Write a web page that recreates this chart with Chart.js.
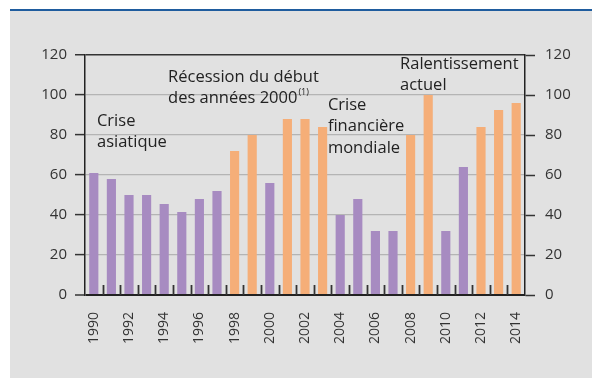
<!DOCTYPE html>
<html>
<head>
  <meta charset="utf-8">
  <title>Crises et ralentissements, 1990-2014</title>
  <script src="https://cdn.jsdelivr.net/npm/chart.js"></script>
  <style>
    body {
      margin: 0;
      background: #ffffff;
    }
    #frame {
      position: absolute;
      left: 10px;
      top: 9px;
      width: 582px;
      height: 369px;
      box-sizing: border-box;
      background: #e1e1e1;
      border-top: 2px solid #1f5c9e;
    }
    #chart {
      position: absolute;
      left: 0;
      top: 0;
    }
  </style>
</head>
<body>
  <div id="frame"></div>
  <canvas id="chart" width="592" height="378"></canvas>

  <script>
    const years = ['1990', '1991', '1992', '1993', '1994', '1995', '1996', '1997', '1998', '1999',
                   '2000', '2001', '2002', '2003', '2004', '2005', '2006', '2007', '2008', '2009',
                   '2010', '2011', '2012', '2013', '2014'];
    const values = [61, 58, 50, 50, 45.5, 41.5, 48, 52, 72, 80,
                    56, 88, 88, 84, 40, 48, 32, 32, 80, 100,
                    32, 64, 84, 92.5, 96];
    // 1 = année de crise / ralentissement
    const slowdown = [0, 0, 0, 0, 0, 0, 0, 0, 1, 1,
                      0, 1, 1, 1, 0, 0, 0, 0, 1, 1,
                      0, 0, 1, 1, 1];
    const yMin = 0, yMax = 120, yStep = 20;

    // textes d'épisodes : ancre = (index d'année, valeur) de la première ligne
    const notes = [
      { lines: ['Crise', 'asiatique'], at: [0.18, 87] },
      { lines: ['Récession du début', 'des années 2000'], sup: '(1)', at: [4.22, 109] },
      { lines: ['Crise', 'financière', 'mondiale'], at: [13.3, 95] },
      { lines: ['Ralentissement', 'actuel'], at: [17.4, 115.5] }
    ];

    const FONT = "'Open Sans', 'Noto Sans', sans-serif";
    const PURPLE = '#a78bc1';
    const ORANGE = '#f5ae78';

    // petites graduations entre les années, vers le haut depuis l'axe
    const innerTicks = {
      id: 'innerTicks',
      afterDatasetsDraw(chart) {
        const { ctx, chartArea, scales: { x } } = chart;
        ctx.save();
        ctx.strokeStyle = '#333';
        ctx.lineWidth = 1.8;
        for (let i = 1; i < years.length; i++) {
          const px = Math.round(x.getPixelForValue(i - 0.5)) + 0.5;
          ctx.beginPath();
          ctx.moveTo(px, chartArea.bottom);
          ctx.lineTo(px, chartArea.bottom - 10);
          ctx.stroke();
        }
        ctx.restore();
      }
    };

    const episodeLabels = {
      id: 'episodeLabels',
      afterDraw(chart) {
        const { ctx, scales: { x, y } } = chart;
        ctx.save();
        ctx.fillStyle = '#222';
        ctx.textBaseline = 'middle';
        ctx.textAlign = 'left';
        notes.forEach(n => {
          const px = x.getPixelForValue(n.at[0]);
          const py = y.getPixelForValue(n.at[1]);
          n.lines.forEach((line, i) => {
            ctx.font = '16.5px ' + FONT;
            const ly = py + i * 21.5;
            ctx.fillText(line, px, ly);
            if (n.sup && i === n.lines.length - 1) {
              const w = ctx.measureText(line).width;
              ctx.font = '9px ' + FONT;
              ctx.fillText(n.sup, px + w + 1, ly - 6);
            }
          });
        });
        ctx.restore();
      }
    };

    const gridColor = ctx => {
      const v = ctx.tick && ctx.tick.value;
      if (v === yMin) return '#222';
      if (v === yMax) return '#333';
      return '#b4b4b4';
    };
    const gridWidth = ctx => {
      const v = ctx.tick && ctx.tick.value;
      if (v === yMin) return 2;
      if (v === yMax) return 1.5;
      return 1.2;
    };

    new Chart(document.getElementById('chart'), {
      type: 'bar',
      data: {
        labels: years,
        datasets: [{
          data: values,
          backgroundColor: slowdown.map(s => s ? ORANGE : PURPLE),
          barPercentage: 0.52,
          categoryPercentage: 1
        }]
      },
      options: {
        responsive: false,
        animation: false,
        layout: { padding: { left: 30, right: 10, top: 55, bottom: 0 } },
        plugins: {
          legend: { display: false },
          tooltip: { enabled: false }
        },
        scales: {
          x: {
            grid: { display: false, drawTicks: false },
            border: { display: false },
            ticks: {
              autoSkip: false,
              maxRotation: 90,
              minRotation: 90,
              padding: 17,
              color: '#333',
              font: { family: FONT, size: 14 },
              callback: (v, i) => (i % 2 === 0 ? years[i] : '')
            },
            afterFit: s => { s.height = 83; }
          },
          y: {
            position: 'left',
            min: yMin,
            max: yMax,
            ticks: { stepSize: yStep, padding: 8, color: '#333', font: { family: FONT, size: 15 } },
            grid: { color: gridColor, lineWidth: gridWidth, tickColor: '#333', tickLength: 10, tickWidth: 1.5 },
            border: { color: '#222', width: 1.5 },
            afterFit: s => { s.width = 55; }
          },
          y2: {
            position: 'right',
            min: yMin,
            max: yMax,
            ticks: { stepSize: yStep, padding: 10, color: '#333', font: { family: FONT, size: 15 } },
            grid: { drawOnChartArea: false, tickColor: '#333', tickLength: 10, tickWidth: 1.5 },
            border: { color: '#222', width: 1.5 },
            afterFit: s => { s.width = 57; }
          }
        }
      },
      plugins: [innerTicks, episodeLabels]
    });
  </script>
</body>
</html>
